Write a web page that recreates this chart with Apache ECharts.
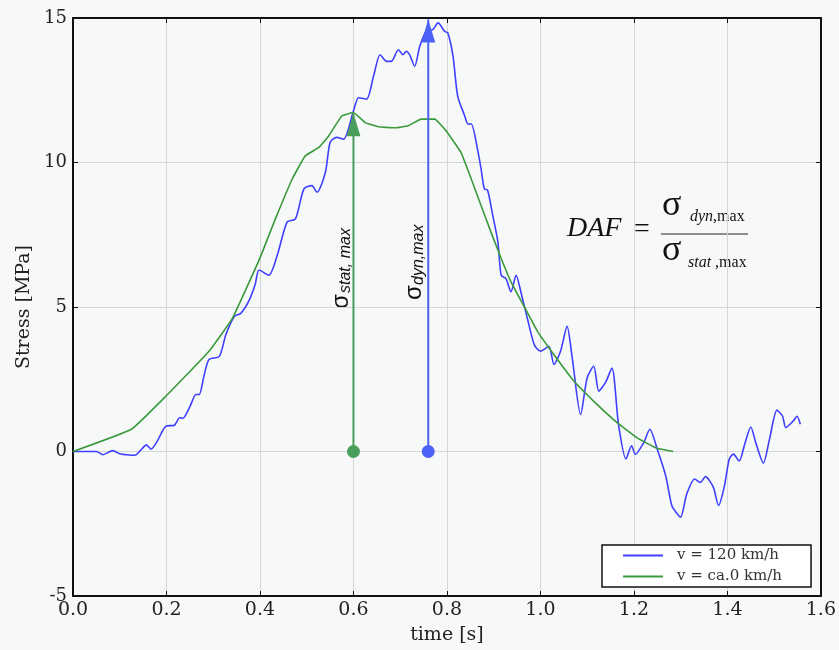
<!DOCTYPE html>
<html>
<head>
<meta charset="utf-8">
<script src="https://cdn.jsdelivr.net/npm/echarts@6/dist/echarts.min.js"></script>
<style>
html,body{margin:0;padding:0;background:#f7f9f9;}
#chart{width:839px;height:650px;}
</style>
</head>
<body>
<div id="chart"></div>
<script>
// ---- data ----
const xTicks = [0.0, 0.2, 0.4, 0.6, 0.8, 1.0, 1.2, 1.4, 1.6];
const yTicks = [-5, 0, 5, 10, 15];

const seriesNames = ['v = 120 km/h', 'v = ca.0 km/h'];

const blueT = [0,0.05,0.064,0.085,0.1,0.114,0.132,0.145,0.157,0.167,0.18,0.199,0.217,0.228,0.235,0.25,0.263,0.27,0.28,0.291,0.313,0.327,0.345,0.359,0.377,0.39,0.398,0.419,0.437,0.458,0.476,0.494,0.511,0.522,0.54,0.55,0.564,0.579,0.6,0.611,0.628,0.643,0.657,0.671,0.681,0.696,0.706,0.713,0.72,0.731,0.742,0.756,0.77,0.781,0.795,0.802,0.813,0.823,0.838,0.845,0.852,0.866,0.873,0.88,0.887,0.898,0.909,0.916,0.926,0.937,0.948,0.958,0.972,0.987,1.0,1.018,1.029,1.043,1.057,1.068,1.086,1.1,1.114,1.125,1.139,1.153,1.167,1.183,1.195,1.203,1.221,1.234,1.25,1.268,1.281,1.29,1.3,1.313,1.33,1.342,1.353,1.37,1.381,1.393,1.404,1.413,1.425,1.438,1.45,1.461,1.477,1.49,1.506,1.518,1.525,1.541,1.549,1.556];
const blueS = [0,0,-0.11,0.03,-0.08,-0.11,-0.13,0.05,0.23,0.08,0.35,0.88,0.91,1.17,1.15,1.55,1.97,1.97,2.6,3.18,3.29,4.04,4.67,4.78,5.24,5.8,6.28,6.1,6.79,7.94,8.05,9.09,9.2,8.97,9.66,10.69,10.87,10.81,11.78,12.24,12.19,12.99,13.73,13.5,13.5,13.9,13.73,13.85,13.73,13.33,14.03,14.54,14.6,14.83,14.54,14.48,13.68,12.3,11.61,11.33,11.33,10.41,9.78,9.09,9.04,8.17,7.25,6.1,5.99,5.53,6.1,5.53,4.61,3.69,3.47,3.64,3.01,3.47,4.33,3.24,1.28,2.55,2.95,2.09,2.38,2.89,0.94,-0.26,0.2,-0.1,0.31,0.77,0.08,-0.84,-1.87,-2.1,-2.27,-1.47,-0.95,-1.07,-0.87,-1.24,-1.87,-1.24,-0.26,-0.09,-0.33,0.31,0.85,0.29,-0.4,0.42,1.43,1.22,0.83,1.06,1.22,0.94];

const greenT = [0,0.125,0.199,0.291,0.341,0.398,0.433,0.469,0.497,0.526,0.547,0.575,0.6,0.625,0.653,0.689,0.717,0.745,0.774,0.798,0.83,0.852,0.873,0.894,0.916,0.937,0.965,0.994,1.029,1.072,1.121,1.164,1.206,1.249,1.284];
const greenS = [0,0.77,1.92,3.47,4.61,6.62,8.05,9.43,10.23,10.52,10.92,11.61,11.73,11.38,11.24,11.2,11.27,11.5,11.5,11.1,10.35,9.43,8.51,7.6,6.68,5.87,5.02,4.15,3.35,2.43,1.63,1.0,0.48,0.11,0];

// arrows: [time, base, top]
const statArrow = [0.6, 0, 11.7];
const dynArrow = [0.76, 0, 14.95];

// ---- build ----
const blueData = blueT.map((t, i) => [t, blueS[i]]);
const greenData = greenT.map((t, i) => [t, greenS[i]]);

const BLUE = '#3f3fff';
const GREEN = '#3a993a';
const ARROW_BLUE = '#4b62f6';
const ARROW_GREEN = '#4a9e5c';
const SERIF = '"DejaVu Serif", serif';

function arrow(a, color) {
  return {
    type: 'line', silent: true, z: 5,
    lineStyle: {color: color, width: 2},
    itemStyle: {color: color},
    showSymbol: true,
    data: [
      {value: [a[0], a[1]], symbol: 'circle', symbolSize: 13},
      {value: [a[0], a[2]], symbol: 'triangle', symbolSize: [14, 23], symbolOffset: [0, '50%']}
    ]
  };
}

const chart = echarts.init(document.getElementById('chart'), null, {renderer: 'canvas'});

const axisLine = {show: true, onZero: false, lineStyle: {color: '#111', width: 2}};
const tickIn = {show: true, inside: true, length: 5, lineStyle: {color: '#111', width: 1}};

chart.setOption({
  animation: false,
  backgroundColor: '#f7f9f9',
  grid: {left: 73, right: 14, top: 18, bottom: 51, containLabel: false},
  xAxis: [{
    type: 'value', min: 0, max: 1.6, interval: 0.2,
    name: 'time [s]', nameLocation: 'middle', nameGap: 30,
    nameTextStyle: {fontFamily: SERIF, fontSize: 19, color: '#222'},
    axisLine: axisLine, axisTick: tickIn,
    axisLabel: {fontFamily: SERIF, fontSize: 19, color: '#222', margin: 5,
      formatter: v => v.toFixed(1)},
    splitLine: {show: true, lineStyle: {color: '#d4d6d8', width: 1}}
  }, {
    type: 'value', min: 0, max: 1.6, interval: 0.2, position: 'top',
    axisLine: axisLine, axisTick: tickIn, axisLabel: {show: false}, splitLine: {show: false}
  }],
  yAxis: [{
    type: 'value', min: -5, max: 15, interval: 5,
    name: 'Stress [MPa]', nameLocation: 'middle', nameGap: 30, nameRotate: 90,
    nameTextStyle: {fontFamily: SERIF, fontSize: 19, color: '#222'},
    axisLine: axisLine, axisTick: tickIn,
    axisLabel: {fontFamily: SERIF, fontSize: 18, color: '#222', margin: 6},
    splitLine: {show: true, lineStyle: {color: '#d4d6d8', width: 1}}
  }, {
    type: 'value', min: -5, max: 15, interval: 5, position: 'right',
    axisLine: axisLine, axisTick: tickIn, axisLabel: {show: false}, splitLine: {show: false}
  }],
  legend: {
    data: seriesNames,
    orient: 'vertical', left: 602, top: 545,
    backgroundColor: '#ffffff', borderColor: '#111', borderWidth: 1.5, borderRadius: 0,
    padding: [3, 29, 3, 21], itemGap: 6,
    icon: 'rect', itemWidth: 40, itemHeight: 2,
    textStyle: {fontFamily: SERIF, fontSize: 15, color: '#333', padding: [0, 0, 0, 9]}
  },
  series: [
    {name: seriesNames[0], type: 'line', data: blueData, showSymbol: false, smooth: 0.25,
      lineStyle: {color: BLUE, width: 1.6}, itemStyle: {color: BLUE}, z: 3},
    {name: seriesNames[1], type: 'line', data: greenData, showSymbol: false, smooth: 0.1,
      lineStyle: {color: GREEN, width: 1.6}, itemStyle: {color: GREEN}, z: 4},
    arrow(statArrow, ARROW_GREEN),
    arrow(dynArrow, ARROW_BLUE)
  ],
  graphic: [
    // rotated sigma labels
    {type: 'text', x: 341, y: 309, rotation: Math.PI / 2,
      style: {text: 'σ', font: '24px "Liberation Sans", sans-serif', fill: '#111', textAlign: 'left', textVerticalAlign: 'middle'}},
    {type: 'text', x: 346, y: 293, rotation: Math.PI / 2,
      style: {text: 'stat, max', font: 'italic 16px "Liberation Sans", sans-serif', fill: '#111', textAlign: 'left', textVerticalAlign: 'middle'}},
    {type: 'text', x: 414, y: 300, rotation: Math.PI / 2,
      style: {text: 'σ', font: '24px "Liberation Sans", sans-serif', fill: '#111', textAlign: 'left', textVerticalAlign: 'middle'}},
    {type: 'text', x: 419, y: 285, rotation: Math.PI / 2,
      style: {text: 'dyn,max', font: 'italic 16px "Liberation Sans", sans-serif', fill: '#111', textAlign: 'left', textVerticalAlign: 'middle'}},
    // DAF formula
    {type: 'text', x: 567, y: 229,
      style: {text: 'DAF', font: 'italic 28px "Liberation Serif", serif', fill: '#111', textAlign: 'left', textVerticalAlign: 'middle'}},
    {type: 'text', x: 634, y: 230,
      style: {text: '=', font: '28px "Liberation Serif", serif', fill: '#111', textAlign: 'left', textVerticalAlign: 'middle'}},
    {type: 'line', shape: {x1: 661, y1: 234, x2: 748, y2: 234}, style: {stroke: '#222', lineWidth: 1}},
    {type: 'text', x: 662, y: 206,
      style: {text: 'σ', font: '36px "Liberation Serif", serif', fill: '#111', textAlign: 'left', textVerticalAlign: 'middle'}},
    {type: 'text', x: 690, y: 217,
      style: {text: '{i|dyn}{n|,max}', fill: '#111', textAlign: 'left', textVerticalAlign: 'middle',
        rich: {i: {font: 'italic 16px "Liberation Serif", serif', fill: '#111'}, n: {font: '16px "Liberation Serif", serif', fill: '#111'}}}},
    {type: 'text', x: 662, y: 251,
      style: {text: 'σ', font: '36px "Liberation Serif", serif', fill: '#111', textAlign: 'left', textVerticalAlign: 'middle'}},
    {type: 'text', x: 688, y: 263,
      style: {text: '{i|stat }{n|,max}', fill: '#111', textAlign: 'left', textVerticalAlign: 'middle',
        rich: {i: {font: 'italic 16px "Liberation Serif", serif', fill: '#111'}, n: {font: '16px "Liberation Serif", serif', fill: '#111'}}}}
  ]
});
</script>
</body>
</html>
